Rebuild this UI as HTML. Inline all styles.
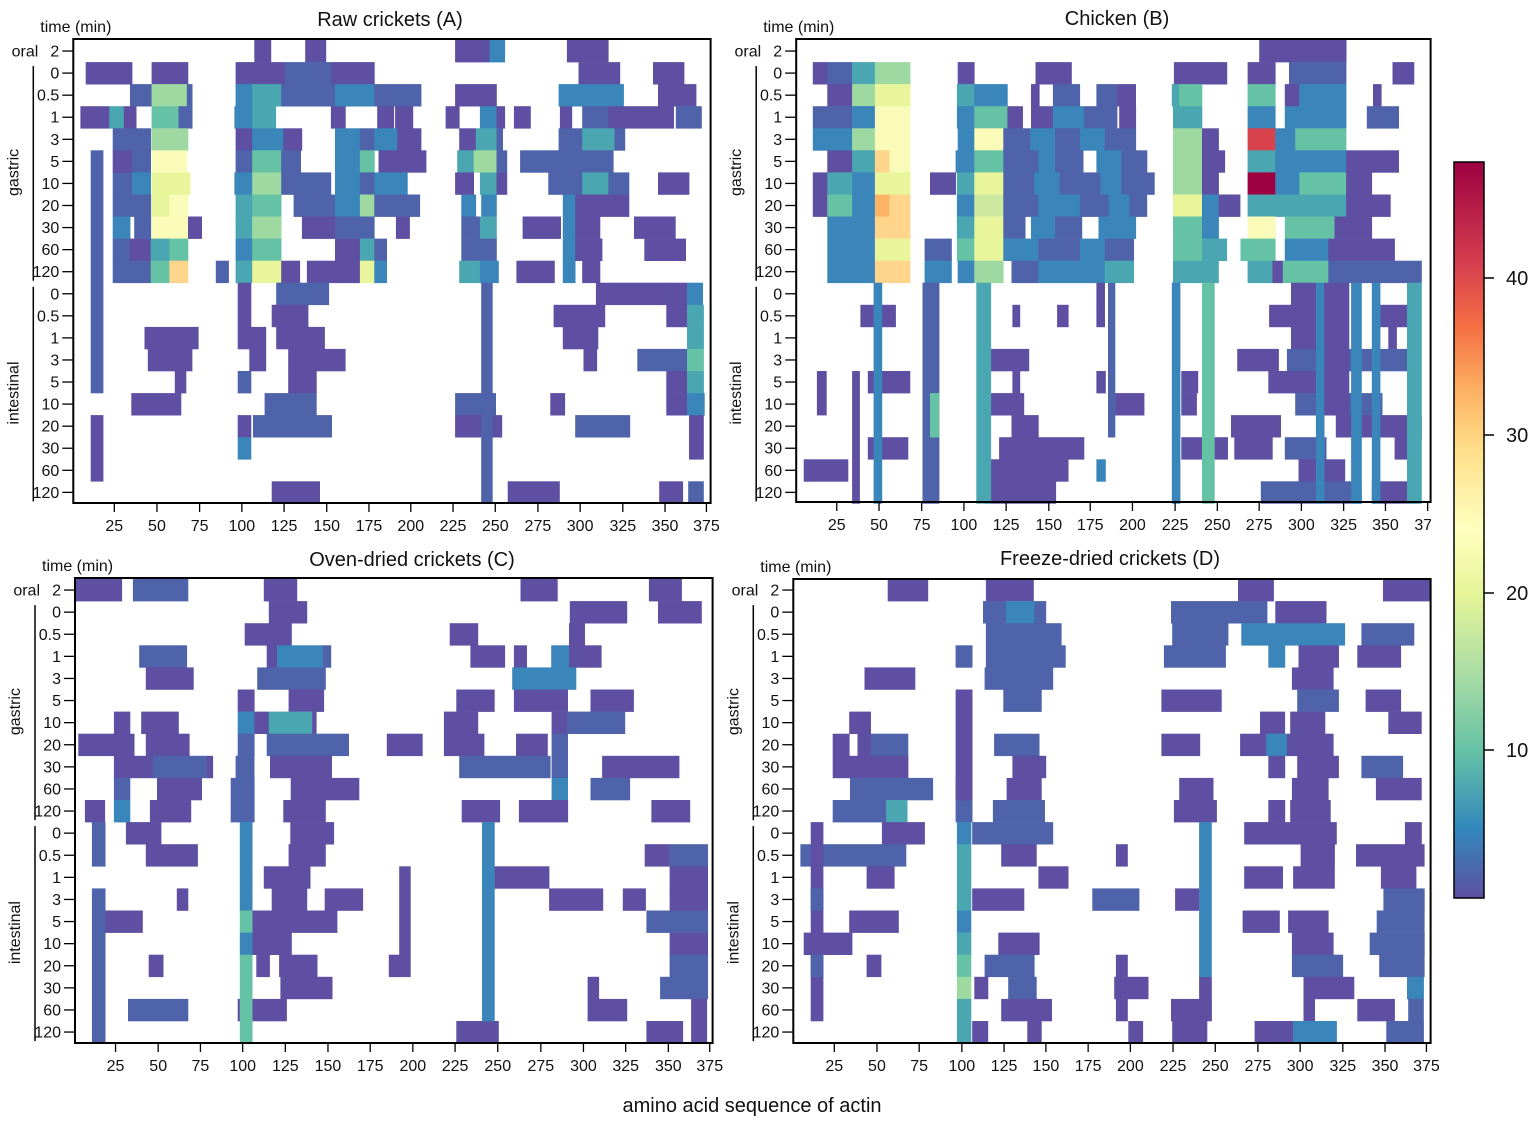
<!DOCTYPE html>
<html><head><meta charset="utf-8">
<style>
html,body{margin:0;padding:0;background:#fff;}
svg{display:block;font-family:"Liberation Sans",Arial,sans-serif;}
</style></head>
<body>
<svg id="s" xmlns="http://www.w3.org/2000/svg" width="1535" height="1124" viewBox="0 0 1535 1124">
<defs>
<linearGradient id="cb" x1="0" y1="0" x2="0" y2="1">
<stop offset="0" stop-color="#9e0142"/>
<stop offset="0.136" stop-color="#d53e4f"/>
<stop offset="0.221" stop-color="#f46d43"/>
<stop offset="0.307" stop-color="#fdae61"/>
<stop offset="0.393" stop-color="#fee08b"/>
<stop offset="0.499" stop-color="#ffffbf"/>
<stop offset="0.586" stop-color="#e6f598"/>
<stop offset="0.692" stop-color="#abdda4"/>
<stop offset="0.799" stop-color="#66c2a5"/>
<stop offset="0.906" stop-color="#3288bd"/>
<stop offset="1" stop-color="#5e4fa2"/>
</linearGradient>
<clipPath id="clipB"><rect x="780" y="500" width="651" height="40"/></clipPath>
</defs>
<g id="g"></g>
<rect x="1454" y="162" width="30" height="736" fill="url(#cb)" stroke="#000" stroke-width="1.5"/>
<g stroke="#000" stroke-width="1.5">
<line x1="1484" y1="278" x2="1494" y2="278"/><line x1="1484" y1="435" x2="1494" y2="435"/>
<line x1="1484" y1="593" x2="1494" y2="593"/><line x1="1484" y1="750" x2="1494" y2="750"/>
</g>
<g font-size="20" fill="#111">
<text x="1506" y="285">40</text><text x="1506" y="442">30</text>
<text x="1506" y="600">20</text><text x="1506" y="757">10</text>
</g>
<text x="752" y="1112" font-size="20" text-anchor="middle" fill="#111">amino acid sequence of actin</text>
</svg>
<script>
var COL={P:"#5e4fa2",Q:"#4e63aa",B:"#3a86bb",T:"#4aa6b0",G:"#66c2a5",L:"#9fd9a2",Y:"#e9f59b",W:"#fafbb8",O:"#fed58a",N:"#fdb366",R:"#d8434e",D:"#9e0142",C:"#cde9a0"};
var P=[
{ox:70,oy:35,rs:15,rh:66.2,xL:73.3,xR:710.6,yT:39,yB:503,title:"Raw crickets (A)",tx:390,ty:26,
ticks:[107,210,313,415,517,620,722,823,925,1027,1130,1232,1335,1437,1537],clip:false,
d:"0 445 485 P;0 568 618 P;0 930 1013 P;0 1013 1050 B;0 1200 1300 P;1 38 150 P;1 197 285 P;1 400 520 P;1 520 630 Q;1 630 735 P;1 1228 1328 P;1 1408 1483 P;2 145 197 Q;2 197 282 L;2 282 295 Q;2 400 440 B;2 440 510 T;2 510 640 Q;2 640 735 B;2 735 848 Q;2 930 1030 P;2 1180 1337 B;2 1420 1512 P;3 25 95 P;3 95 130 T;3 130 160 P;3 197 262 G;3 262 295 Q;3 397 440 B;3 440 497 T;3 630 665 P;3 742 782 P;3 785 828 P;3 907 940 P;3 990 1030 B;3 1030 1050 P;3 1072 1112 P;3 1183 1212 P;3 1237 1300 Q;3 1300 1458 P;3 1463 1525 Q;4 103 195 Q;4 197 285 L;4 400 440 P;4 440 515 B;4 515 560 P;4 640 700 B;4 700 735 Q;4 735 790 B;4 790 848 P;4 940 980 P;4 980 1030 T;4 1030 1045 Q;4 1180 1237 Q;4 1237 1315 T;4 1315 1340 Q;5 103 150 P;5 150 195 Q;5 197 282 W;5 400 440 Q;5 440 510 G;5 510 557 Q;5 640 700 B;5 700 735 G;5 745 860 P;5 935 975 T;5 975 1030 L;5 1030 1055 Q;5 1087 1312 Q;6 103 150 Q;6 150 195 B;6 197 290 Y;6 397 440 B;6 440 510 L;6 510 630 Q;6 640 700 B;6 700 735 Q;6 735 815 B;6 930 975 P;6 990 1030 T;6 1030 1055 P;6 1155 1237 Q;6 1237 1300 T;6 1300 1350 Q;6 1420 1495 P;7 103 195 Q;7 197 240 Y;7 240 285 W;7 400 440 T;7 440 510 G;7 540 640 Q;7 640 700 B;7 700 735 L;7 735 845 Q;7 945 980 B;7 993 1030 B;7 1190 1220 B;7 1220 1350 P;8 103 145 B;8 155 195 Q;8 197 285 W;8 285 318 P;8 400 440 T;8 440 510 L;8 560 640 P;8 640 735 Q;8 787 820 P;8 945 990 Q;8 990 1030 T;8 1093 1185 P;8 1190 1220 B;8 1220 1280 P;8 1362 1462 P;9 103 145 Q;9 145 195 P;9 195 240 T;9 240 285 G;9 400 440 B;9 440 510 G;9 640 700 P;9 700 735 T;9 735 765 Q;9 945 1030 Q;9 1190 1220 B;9 1220 1285 P;9 1387 1487 P;10 103 195 Q;10 195 240 G;10 240 285 O;10 352 383 Q;10 400 440 T;10 440 510 Y;10 510 555 P;10 572 700 P;10 700 735 Y;10 735 765 B;10 940 990 T;10 990 1035 B;10 1078 1170 P;10 1190 1220 B;10 1237 1280 P;11 405 437 P;11 498 625 Q;11 1270 1490 P;11 1490 1528 B;12 405 437 P;12 487 575 P;12 1168 1292 P;12 1440 1490 P;12 1490 1530 T;13 180 310 P;13 405 473 P;13 498 615 P;13 1190 1275 P;13 1490 1530 T;14 188 295 P;14 433 473 P;14 527 665 P;14 1240 1272 P;14 1370 1490 Q;14 1490 1530 G;15 253 280 P;15 405 437 Q;15 527 595 P;15 1440 1490 P;15 1490 1530 T;16 148 268 P;16 470 595 Q;16 930 1028 Q;16 1160 1195 P;16 1440 1490 P;16 1490 1532 B;17 405 437 P;17 442 632 Q;17 930 1043 P;17 1220 1352 Q;17 1495 1530 P;18 405 437 B;18 1495 1530 P;20 487 603 P;20 1057 1182 P;20 1423 1480 P;20 1493 1530 Q;5-15 50 80 Q;17-19 50 80 P;11-20 993 1020 Q"},
{ox:790,oy:35,rs:15,rh:66.2,xL:796.2,xR:1430.6,yT:39,yB:502,title:"Chicken (B)",tx:1117,ty:25,
ticks:[113,215,318,420,522,625,725,827,930,1032,1133,1235,1337,1438,1540],clip:true,
d:"0 1133 1343 P;1 55 90 P;1 90 150 Q;1 150 205 T;1 205 290 L;1 405 445 P;1 593 680 P;1 927 1055 P;1 1105 1172 P;1 1205 1343 Q;1 1455 1507 P;2 90 150 P;2 150 205 L;2 205 290 Y;2 403 445 T;2 445 525 B;2 582 602 P;2 635 700 Q;2 740 790 Q;2 790 835 P;2 922 940 T;2 940 995 G;2 1105 1172 G;2 1195 1230 P;2 1230 1343 B;2 1408 1428 P;3 55 205 Q;3 150 205 B;3 205 290 W;3 403 445 B;3 445 525 G;3 525 562 P;3 582 635 P;3 635 710 B;3 710 790 Q;3 795 835 P;3 925 995 T;3 1105 1172 B;3 1195 1343 B;3 1393 1470 Q;4 55 150 B;4 150 205 L;4 205 290 W;4 405 445 B;4 445 515 W;4 515 580 Q;4 580 640 B;4 640 700 Q;4 700 760 B;4 760 835 Q;4 925 995 L;4 995 1035 P;4 1105 1172 R;4 1172 1220 B;4 1220 1343 G;5 90 150 P;5 150 205 T;5 205 240 O;5 240 290 W;5 400 445 B;5 445 515 G;5 515 600 Q;5 600 640 B;5 640 708 Q;5 740 800 B;5 800 862 Q;5 925 995 L;5 995 1050 P;5 1105 1172 T;5 1172 1343 B;5 1343 1470 P;6 55 90 P;6 90 150 T;6 150 205 B;6 205 290 Y;6 338 400 P;6 403 445 T;6 445 515 Y;6 515 590 Q;6 590 650 B;6 650 750 Q;6 750 800 B;6 800 880 Q;6 925 995 L;6 995 1035 P;6 1105 1172 D;6 1172 1230 B;6 1230 1343 G;6 1343 1405 P;7 55 90 P;7 90 150 G;7 150 205 B;7 205 240 N;7 240 290 O;7 403 445 B;7 445 515 C;7 515 600 Q;7 600 700 B;7 700 770 Q;7 770 820 B;7 820 862 Q;7 925 995 Y;7 995 1035 B;7 1035 1087 P;7 1105 1172 T;7 1172 1343 T;7 1343 1450 P;8 90 205 B;8 205 290 O;8 403 445 T;8 445 515 Y;8 515 568 Q;8 582 640 B;8 640 705 Q;8 745 835 B;8 925 995 G;8 995 1035 B;8 1105 1172 W;8 1195 1315 G;8 1315 1405 P;9 90 205 B;9 205 290 Y;9 325 390 Q;9 403 445 G;9 445 515 Y;9 515 600 B;9 600 700 Q;9 700 760 B;9 760 830 Q;9 925 995 G;9 995 1055 T;9 1088 1172 G;9 1195 1300 B;9 1300 1460 P;10 90 205 B;10 205 290 O;10 325 390 B;10 405 445 B;10 445 515 L;10 535 600 Q;10 600 760 B;10 760 830 T;10 925 1035 T;10 1105 1165 T;10 1165 1190 P;10 1190 1300 G;10 1300 1525 Q;11 740 760 P;12 740 760 P;12 170 255 P;12 537 555 P;12 645 672 P;12 1157 1340 P;12 1425 1490 P;13 1445 1465 P;14 485 577 P;14 1080 1180 P;14 1200 1490 Q;15 188 290 P;15 537 555 P;15 740 762 P;15 945 985 P;15 1155 1285 P;15 1318 1340 P;16 485 565 P;16 785 855 P;16 945 982 P;16 1220 1430 Q;17 535 600 P;17 1065 1185 P;17 1318 1525 P;18 188 285 P;18 505 710 P;18 945 1057 P;18 1073 1165 P;18 1195 1295 Q;18 1460 1490 P;19 33 140 P;19 470 672 P;19 740 762 B;19 1228 1340 P;20 470 642 P;20 1137 1380 Q;20 1405 1520 P;11-13 1210 1270 P;11-20 202 222 B;11-20 320 360 Q;16-17 338 360 G;11-20 450 485 T;11-17 768 785 Q;11-20 922 942 B;11-20 995 1025 G;11-20 1270 1290 B;11-16 1290 1350 P;11-20 1355 1380 B;11-20 1405 1425 B;11-20 1490 1525 T;15-16 65 88 P;15-20 150 168 P"},
{ox:70,oy:573,rs:18,rh:66.3,xL:75,xR:712.6,yT:578,yB:1043,title:"Oven-dried crickets (C)",tx:412,ty:566,
ticks:[110,213,315,417,520,623,725,828,930,1033,1137,1240,1342,1445,1545],clip:false,
d:"0 12 125 P;0 152 285 Q;0 468 548 P;0 1088 1177 P;0 1398 1477 P;1 480 572 P;1 1207 1345 P;1 1420 1525 P;2 422 535 P;2 917 985 P;2 1205 1243 P;3 167 282 Q;3 475 500 P;3 500 610 B;3 610 630 Q;3 967 1050 P;3 1072 1103 P;3 1162 1205 B;3 1205 1283 P;4 183 298 P;4 452 617 Q;4 1068 1222 B;5 405 445 P;5 528 613 P;5 933 1025 P;5 1072 1202 P;5 1257 1361 P;6 106 145 P;6 172 262 P;6 405 445 B;6 445 480 P;6 480 585 T;6 585 595 P;6 903 985 P;6 1163 1200 P;6 1200 1340 Q;7 20 155 P;7 183 288 P;7 405 445 Q;7 475 673 Q;7 765 851 P;7 903 1000 P;7 1077 1153 P;7 1163 1202 Q;8 106 200 P;8 200 330 Q;8 330 345 P;8 400 445 Q;8 483 632 P;8 940 1160 Q;8 1163 1202 Q;8 1285 1471 P;9 106 145 Q;9 210 318 P;9 388 445 Q;9 533 698 P;9 1163 1202 B;9 1257 1352 Q;10 36 84 P;10 106 145 B;10 193 292 P;10 388 445 Q;10 515 617 P;10 946 1038 P;10 1084 1202 P;10 1404 1497 P;11 135 220 P;11 532 637 P;12 183 308 P;12 528 617 P;12 1388 1448 P;12 1448 1540 Q;13 468 580 P;13 1025 1157 P;13 1448 1540 P;14 258 285 P;14 487 572 P;14 615 707 P;14 1157 1287 P;14 1335 1390 P;14 1448 1540 P;15 85 175 P;15 440 645 P;15 1392 1540 Q;16 440 535 P;16 1448 1540 P;17 190 225 P;17 450 482 P;17 505 597 P;17 770 797 P;17 1448 1540 Q;18 508 633 P;18 1250 1277 P;18 1425 1540 Q;19 140 285 Q;19 405 523 P;19 1250 1345 P;19 1500 1538 P;20 933 1035 P;20 1392 1480 P;20 1500 1538 P;11-12 53 85 Q;14-20 53 85 Q;11-14 410 440 B;15 410 440 G;16 410 440 B;17-20 410 440 G;13-17 795 822 P;11-19 995 1025 B"},
{ox:790,oy:573,rs:18,rh:66.3,xL:793.3,xR:1430.6,yT:579,yB:1043,title:"Freeze-dried crickets (D)",tx:1110,ty:565,
ticks:[107,210,312,415,517,618,720,822,925,1027,1130,1232,1335,1437,1537],clip:false,
d:"0 236 333 P;0 473 588 P;0 1082 1168 P;0 1432 1545 P;1 466 522 Q;1 522 590 B;1 590 618 Q;1 920 1152 Q;1 1172 1295 P;2 473 655 Q;2 923 1058 Q;2 1090 1340 B;2 1380 1507 Q;3 400 440 Q;3 473 665 Q;3 903 1052 Q;3 1155 1195 B;3 1228 1325 P;3 1370 1475 P;4 180 302 P;4 470 635 Q;4 1212 1312 P;5 515 607 Q;5 897 1042 P;5 1225 1325 Q;5 1390 1475 P;6 143 195 P;6 1135 1195 P;6 1208 1292 P;6 1445 1525 P;7 103 143 P;7 163 195 P;7 195 285 Q;7 493 602 Q;7 897 990 P;7 1087 1150 P;7 1150 1200 B;7 1200 1312 P;8 103 285 P;8 537 618 P;8 1155 1195 P;8 1225 1325 P;8 1380 1480 Q;9 145 345 Q;9 400 440 Q;9 523 607 P;9 940 1022 P;9 1212 1300 P;9 1415 1525 P;10 103 232 Q;10 232 283 T;10 400 440 Q;10 490 615 Q;10 927 1030 P;10 1155 1195 P;10 1208 1305 P;11 222 325 P;11 440 635 Q;11 1097 1320 P;11 1485 1525 P;12 25 280 Q;12 510 595 P;12 787 815 P;12 1233 1315 P;12 1367 1532 P;13 185 252 P;13 600 672 P;13 1097 1190 P;13 1215 1315 P;13 1427 1512 P;14 440 565 P;14 730 843 Q;14 930 988 P;14 1433 1532 Q;15 143 262 P;15 1093 1182 P;15 1203 1300 P;15 1417 1532 Q;16 33 150 P;16 503 602 P;16 1212 1312 P;16 1400 1532 Q;17 185 220 P;17 470 590 Q;17 787 815 P;17 1212 1335 Q;17 1423 1532 Q;18 445 478 P;18 527 595 Q;18 783 865 P;18 988 1018 P;18 1240 1362 P;18 1490 1530 B;19 510 632 P;19 787 815 P;19 920 1018 P;19 1240 1267 P;19 1370 1460 P;19 1493 1530 Q;20 440 478 P;20 573 607 P;20 817 852 P;20 923 1007 P;20 1122 1215 P;20 1215 1320 B;20 1440 1530 Q;11-19 50 80 P;14 50 80 Q;17 50 80 Q;5-9 400 440 P;11 403 437 B;12-14 403 437 T;15 403 437 B;16 403 437 T;17 403 437 G;18 403 437 L;19-20 403 437 T;11-17 988 1018 B"}
];
var LAB=["2","0","0.5","1","3","5","10","20","30","60","120","0","0.5","1","3","5","10","20","30","60","120"];
var XL=["25","50","75","100","125","150","175","200","225","250","275","300","325","350","375"];
var h="";
function rt(p,r){return p.oy+(p.rs+p.rh*r)/3;}
P.forEach(function(p){
  var k=1/2.415;
  p.d.split(";").forEach(function(it){
    var a=it.trim().split(/\s+/);if(a.length<4)return;
    var rr=a[0].split("-"),r1=+rr[0],r2=rr.length>1?+rr[1]:r1;
    var x0=p.ox+(+a[1])*k,x1=p.ox+(+a[2])*k;
    var y0=rt(p,r1),y1=rt(p,r2+1);
    h+='<rect x="'+x0.toFixed(1)+'" y="'+y0.toFixed(1)+'" width="'+(x1-x0+0.3).toFixed(1)+'" height="'+(y1-y0+0.3).toFixed(1)+'" fill="'+COL[a[3]]+'"/>';
  });
  h+='<rect x="'+p.xL+'" y="'+p.yT+'" width="'+(p.xR-p.xL)+'" height="'+(p.yB-p.yT)+'" fill="none" stroke="#000" stroke-width="2"/>';
  for(var r=0;r<21;r++){
    var yc=(rt(p,r)+rt(p,r+1))/2;
    h+='<line x1="'+(p.xL-11)+'" y1="'+yc+'" x2="'+p.xL+'" y2="'+yc+'" stroke="#000" stroke-width="1.3"/>';
    h+='<text x="'+(p.xL-14)+'" y="'+(yc+5.5)+'" font-size="16" text-anchor="end" fill="#111">'+LAB[r]+'</text>';
  }
  var bx=p.xL-40;
  h+='<line x1="'+bx+'" y1="'+(rt(p,1)+4)+'" x2="'+bx+'" y2="'+(rt(p,11)-2)+'" stroke="#000" stroke-width="1.5"/>';
  h+='<line x1="'+bx+'" y1="'+(rt(p,11)+4)+'" x2="'+bx+'" y2="'+(rt(p,21)-2)+'" stroke="#000" stroke-width="1.5"/>';
  var y0c=(rt(p,0)+rt(p,1))/2;
  h+='<text x="'+(p.xL-35)+'" y="'+(y0c+5.5)+'" font-size="16" text-anchor="end" fill="#111">oral</text>';
  var gy=(rt(p,1)+rt(p,11))/2, iy=(rt(p,11)+rt(p,21))/2, gx=p.xL-55;
  h+='<text transform="translate('+gx+','+gy+') rotate(-90)" font-size="16" text-anchor="middle" fill="#111">gastric</text>';
  h+='<text transform="translate('+gx+','+iy+') rotate(-90)" font-size="16" text-anchor="middle" fill="#111">intestinal</text>';
  h+='<text x="'+(p.xL-33)+'" y="'+(p.yT-7)+'" font-size="16" fill="#111">time (min)</text>';
  h+='<text x="'+p.tx+'" y="'+p.ty+'" font-size="20" text-anchor="middle" fill="#111">'+p.title+'</text>';
  var g=p.clip?'<g clip-path="url(#clipB)">':'<g>';
  p.ticks.forEach(function(t,i){
    var x=p.ox+t*k;
    h+='<line x1="'+x+'" y1="'+p.yB+'" x2="'+x+'" y2="'+(p.yB+9)+'" stroke="#000" stroke-width="1.3"/>';
    g+='<text x="'+x+'" y="'+(p.yB+28)+'" font-size="16" text-anchor="middle" fill="#111">'+XL[i]+'</text>';
  });
  h+=g+'</g>';
});
document.getElementById("g").innerHTML=h;
</script>
</body></html>
